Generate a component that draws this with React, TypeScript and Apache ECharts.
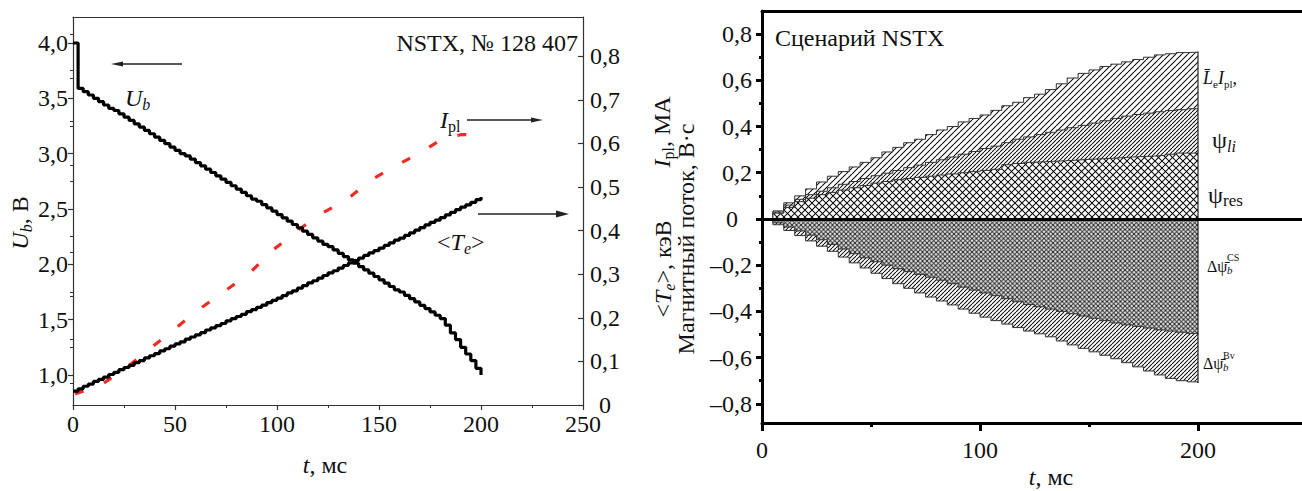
import React, { useEffect, useRef } from 'react';
import * as echarts from 'echarts';

// ---------- data (left panel) ----------
const T_FINE = [0, 2.5, 5, 7.5, 10, 12.5, 15, 17.5, 20, 22.5, 25, 27.5, 30, 32.5, 35, 37.5, 40, 42.5, 45, 47.5,
  50, 52.5, 55, 57.5, 60, 62.5, 65, 67.5, 70, 72.5, 75, 77.5, 80, 82.5, 85, 87.5, 90, 92.5, 95, 97.5,
  100, 102.5, 105, 107.5, 110, 112.5, 115, 117.5, 120, 122.5, 125, 127.5, 130, 132.5, 135, 137.5, 140, 142.5, 145, 147.5,
  150, 152.5, 155, 157.5, 160, 162.5, 165, 167.5, 170, 172.5, 175, 177.5, 180, 182.5, 185, 187.5, 190, 192.5, 195, 197.5, 200];

const UB = [4.00, 3.59, 3.56, 3.53, 3.50, 3.47, 3.44, 3.41, 3.39, 3.36,
  3.33, 3.30, 3.27, 3.24, 3.21, 3.18, 3.15, 3.12, 3.09, 3.06,
  3.03, 3.00, 2.98, 2.95, 2.92, 2.89, 2.86, 2.83, 2.80, 2.77,
  2.74, 2.71, 2.68, 2.65, 2.62, 2.59, 2.57, 2.54, 2.51, 2.48,
  2.45, 2.42, 2.39, 2.36, 2.33, 2.30, 2.27, 2.24, 2.21, 2.18,
  2.16, 2.13, 2.10, 2.07, 2.04, 2.01, 1.98, 1.95, 1.92, 1.89,
  1.86, 1.83, 1.80, 1.77, 1.75, 1.72, 1.69, 1.66, 1.63, 1.60,
  1.57, 1.54, 1.51, 1.45, 1.38, 1.32, 1.25, 1.19, 1.13, 1.06,
  1.00];

const TE = [0.032, 0.037, 0.043, 0.048, 0.054, 0.059, 0.064, 0.070, 0.075, 0.081,
  0.086, 0.091, 0.097, 0.102, 0.108, 0.113, 0.118, 0.124, 0.129, 0.135,
  0.140, 0.145, 0.151, 0.156, 0.161, 0.166, 0.172, 0.177, 0.182, 0.187,
  0.193, 0.198, 0.203, 0.208, 0.214, 0.219, 0.224, 0.229, 0.235, 0.240,
  0.245, 0.251, 0.257, 0.262, 0.268, 0.274, 0.280, 0.285, 0.291, 0.297,
  0.303, 0.308, 0.314, 0.320, 0.326, 0.331, 0.337, 0.343, 0.349, 0.354,
  0.360, 0.366, 0.372, 0.378, 0.383, 0.389, 0.395, 0.401, 0.407, 0.413,
  0.419, 0.424, 0.430, 0.436, 0.442, 0.448, 0.454, 0.459, 0.465, 0.471,
  0.477];

const IPL_T = [1, 15, 26, 38, 50, 62, 74, 86, 98, 110, 122, 134, 146, 157, 170, 181, 190, 196];
const IPL = [0.025, 0.05, 0.085, 0.13, 0.175, 0.22, 0.26, 0.30, 0.355, 0.40, 0.44, 0.47, 0.516, 0.546, 0.578, 0.61, 0.62, 0.62];

// ---------- data (right panel, boundaries of the bands) ----------
const T_FLUX = [0, 5, 10, 15, 20, 25, 30, 35, 40, 45, 50, 55, 60, 65, 70, 75, 80, 85, 90, 95,
  100, 105, 110, 115, 120, 125, 130, 135, 140, 145, 150, 155, 160, 165, 170, 175, 180, 185, 190, 195, 200];

const LE_IPL_TOP = [0, 0.035, 0.07, 0.10, 0.13, 0.16, 0.185, 0.205, 0.225, 0.245,
  0.265, 0.29, 0.31, 0.33, 0.345, 0.365, 0.385, 0.40, 0.42, 0.435,
  0.45, 0.47, 0.49, 0.505, 0.525, 0.54, 0.56, 0.585, 0.61, 0.63,
  0.645, 0.66, 0.67, 0.68, 0.69, 0.70, 0.71, 0.715, 0.72, 0.722, 0.725];

const PSI_LI_TOP = [0, 0.03, 0.06, 0.085, 0.105, 0.12, 0.135, 0.15, 0.162, 0.175,
  0.187, 0.198, 0.21, 0.222, 0.233, 0.245, 0.256, 0.268, 0.28, 0.292,
  0.305, 0.315, 0.33, 0.345, 0.355, 0.365, 0.375, 0.385, 0.395, 0.405,
  0.415, 0.425, 0.435, 0.445, 0.452, 0.458, 0.464, 0.469, 0.473, 0.477, 0.48];

const PSI_RES = [0, 0.025, 0.05, 0.075, 0.09, 0.105, 0.115, 0.125, 0.135, 0.145,
  0.155, 0.162, 0.17, 0.175, 0.18, 0.185, 0.19, 0.195, 0.20, 0.205,
  0.21, 0.215, 0.235, 0.24, 0.245, 0.248, 0.25, 0.252, 0.255, 0.258,
  0.26, 0.262, 0.265, 0.268, 0.27, 0.272, 0.275, 0.28, 0.285, 0.285, 0.285];

const DPSI_BV_BOTTOM = [0, -0.025, -0.05, -0.072, -0.095, -0.118, -0.14, -0.165, -0.19, -0.212,
  -0.235, -0.258, -0.28, -0.30, -0.32, -0.338, -0.355, -0.372, -0.39, -0.408,
  -0.425, -0.44, -0.455, -0.47, -0.485, -0.497, -0.51, -0.528, -0.545, -0.56,
  -0.575, -0.59, -0.605, -0.622, -0.64, -0.658, -0.675, -0.69, -0.70, -0.705, -0.71];

const DPSI_CS = [0, -0.017, -0.035, -0.052, -0.07, -0.09, -0.11, -0.13, -0.15, -0.168,
  -0.185, -0.20, -0.215, -0.228, -0.24, -0.252, -0.265, -0.28, -0.295, -0.308,
  -0.32, -0.332, -0.345, -0.358, -0.37, -0.38, -0.39, -0.40, -0.41, -0.42,
  -0.43, -0.44, -0.45, -0.458, -0.465, -0.472, -0.48, -0.485, -0.49, -0.495, -0.50];

// ---------- ticks ----------
const UB_TICKS = [1, 1.5, 2, 2.5, 3, 3.5, 4];
const UB_MINOR = [1.25, 1.75, 2.25, 2.75, 3.25, 3.75];
const RIGHT_TICKS = [0, 0.1, 0.2, 0.3, 0.4, 0.5, 0.6, 0.7, 0.8];
const RIGHT_MINOR = [0.05, 0.15, 0.25, 0.35, 0.45, 0.55, 0.65, 0.75, 0.85];
const FLUX_TICKS = [-0.8, -0.6, -0.4, -0.2, 0, 0.2, 0.4, 0.6, 0.8];
const FLUX_MINOR = [-0.7, -0.5, -0.3, -0.1, 0.1, 0.3, 0.5, 0.7];
const FLUX_T_TICKS = [0, 100, 200];

const F = 'Liberation Serif, Times New Roman, serif';
const INK = '#111';

const fmt = (v: number) => (Math.abs(v) < 1e-9 ? '0' : (v < 0 ? '\u2013' : '') + Math.abs(v).toFixed(1).replace('.', ','));

function makeHatch(s: number, dirs: string[], lw: number) {
  const k = 4;
  const S = Math.round(s * k);
  const c = document.createElement('canvas');
  c.width = S; c.height = S;
  const ctx = c.getContext('2d')!;
  ctx.fillStyle = '#fff';
  ctx.fillRect(0, 0, S, S);
  ctx.strokeStyle = '#000';
  ctx.lineWidth = lw * k;
  ctx.beginPath();
  for (const d of dirs) {
    for (const o of [-S, 0, S]) {
      if (d === '/') { ctx.moveTo(o, S); ctx.lineTo(o + S, 0); }
      else { ctx.moveTo(o, 0); ctx.lineTo(o + S, S); }
    }
  }
  ctx.stroke();
  return { image: c, repeat: 'repeat', imageWidth: S / k, imageHeight: S / k };
}

const tk = (size: number, italic = false) => ({ fontFamily: F, fontSize: size, fontStyle: italic ? 'italic' : 'normal', fill: INK, lineHeight: size + 4, verticalAlign: 'middle' });
const sb = (size: number, italic = false, lh = 14) => ({ fontFamily: F, fontSize: size, fontStyle: italic ? 'italic' : 'normal', fill: INK, lineHeight: lh, verticalAlign: 'bottom' });

function txt(x: number, y: number, text: string, rich: any, align = 'left', rot = 0, size = 24) {
  return { type: 'text', x, y, z: 100, rotation: rot, style: { text, rich, align, verticalAlign: 'middle', fontFamily: F, fontSize: size, fill: INK } };
}

function arrow(x1: number, x2: number, y: number, head: number, half: number) {
  const dir = x2 > x1 ? 1 : -1;
  return [
    { type: 'line', z: 100, shape: { x1, y1: y, x2: x2 - dir * head * 0.6, y2: y }, style: { stroke: '#222', lineWidth: 1.3 } },
    { type: 'polygon', z: 100, shape: { points: [[x2, y], [x2 - dir * head, y - half], [x2 - dir * head, y + half]] }, style: { fill: '#222' } },
  ];
}

export default function App() {
  const ref = useRef<HTMLDivElement>(null);
  useEffect(() => {
    if (!ref.current) return;
    const chart = echarts.init(ref.current, null, { renderer: 'svg' });

    const pLe = makeHatch(6, ['/'], 1.0);
    const pLi = makeHatch(4, ['/'], 0.95);
    const pRes = makeHatch(7, ['/', '\\'], 1.0);
    const pCS = makeHatch(4.5, ['/', '\\'], 0.9);
    const pBv = makeHatch(4, ['/'], 0.95);

    const thin = { color: '#333', width: 1.2 };
    const thick = { color: '#000', width: 3 };
    const lbl = { fontFamily: F, fontSize: 24, color: INK };

    const flux = (name: string, vals: number[], pattern: any, z: number, extra: any = {}) => ({
      type: 'line', name, xAxisIndex: 2, yAxisIndex: 4, z, silent: true, symbol: 'none', step: 'end',
      data: T_FLUX.map((t, i) => [t, vals[i]]),
      lineStyle: { color: '#333', width: 1 },
      areaStyle: { color: pattern, opacity: 1 },
      ...extra,
    });

    const last = T_FLUX.length - 1;

    const option: any = {
      animation: false,
      backgroundColor: '#fff',
      textStyle: { fontFamily: F },
      grid: [
        { left: 73, top: 17, width: 510, height: 388, outerBoundsMode: 'none', containLabel: false },
        { left: 762, top: 11, width: 654, height: 412, outerBoundsMode: 'none', containLabel: false },
      ],
      xAxis: [
        {
          gridIndex: 0, type: 'value', position: 'bottom', min: 0, max: 250, interval: 50,
          axisLine: { onZero: false, lineStyle: thin },
          axisTick: { length: 5, lineStyle: thin },
          minorTick: { show: true, splitNumber: 2, length: 3, lineStyle: { color: '#333', width: 1 } },
          splitLine: { show: false }, minorSplitLine: { show: false },
          axisLabel: { ...lbl, margin: 7 },
        },
        {
          gridIndex: 0, type: 'value', position: 'top', min: 0, max: 250,
          axisLine: { show: true, onZero: false, lineStyle: thin },
          axisTick: { show: false }, axisLabel: { show: false }, splitLine: { show: false },
        },
        {
          gridIndex: 1, type: 'value', position: 'bottom', min: 0, max: 300, interval: 100,
          axisLine: { onZero: false, lineStyle: thick },
          axisTick: { length: 8, lineStyle: thick },
          minorTick: { show: true, splitNumber: 2, length: 4, lineStyle: thick },
          splitLine: { show: false }, minorSplitLine: { show: false },
          axisLabel: { ...lbl, margin: 15, customValues: FLUX_T_TICKS },
        },
        {
          gridIndex: 1, type: 'value', position: 'top', min: 0, max: 300,
          axisLine: { show: true, onZero: false, lineStyle: thick },
          axisTick: { show: false }, axisLabel: { show: false }, splitLine: { show: false },
        },
      ],
      yAxis: [
        {
          gridIndex: 0, type: 'value', position: 'left', min: 0.729, max: 4.235,
          axisLine: { show: true, onZero: false, lineStyle: thin },
          axisTick: { show: true, length: 5, lineStyle: thin, customValues: UB_TICKS },
          axisLabel: { ...lbl, margin: 5, customValues: UB_TICKS, formatter: fmt },
          splitLine: { show: false },
        },
        {
          gridIndex: 0, type: 'value', position: 'left', min: 0.729, max: 4.235,
          axisLine: { show: false },
          axisTick: { show: true, length: 3, lineStyle: { color: '#333', width: 1 }, customValues: UB_MINOR },
          axisLabel: { show: false }, splitLine: { show: false },
        },
        {
          gridIndex: 0, type: 'value', position: 'right', min: 0, max: 0.89,
          axisLine: { show: true, onZero: false, lineStyle: thin },
          axisTick: { show: true, inside: true, length: 5, lineStyle: thin, customValues: RIGHT_TICKS },
          axisLabel: { ...lbl, margin: 22, align: 'center', customValues: RIGHT_TICKS, formatter: fmt },
          splitLine: { show: false },
        },
        {
          gridIndex: 0, type: 'value', position: 'right', min: 0, max: 0.89,
          axisLine: { show: false },
          axisTick: { show: true, inside: true, length: 3, lineStyle: { color: '#333', width: 1 }, customValues: RIGHT_MINOR },
          axisLabel: { show: false }, splitLine: { show: false },
        },
        {
          gridIndex: 1, type: 'value', position: 'left', min: -0.883, max: 0.9,
          axisLine: { show: true, onZero: false, lineStyle: thick },
          axisTick: { show: true, length: 6, lineStyle: thick, customValues: FLUX_TICKS },
          axisLabel: {
            ...lbl, margin: 10, customValues: FLUX_TICKS,
            formatter: (v: number) => (Math.abs(v) < 1e-9 ? '{z|0}' : fmt(v)),
            rich: { z: { fontFamily: F, fontSize: 24, color: INK, padding: [0, 14, 0, 0] } },
          },
          splitLine: { show: false },
        },
        {
          gridIndex: 1, type: 'value', position: 'left', min: -0.883, max: 0.9,
          axisLine: { show: false },
          axisTick: { show: true, length: 3, lineStyle: thick, customValues: FLUX_MINOR },
          axisLabel: { show: false }, splitLine: { show: false },
        },
      ],
      series: [
        {
          type: 'line', name: 'Ipl', xAxisIndex: 0, yAxisIndex: 2, z: 2, symbol: 'none', silent: true,
          data: IPL_T.map((t, i) => [t, IPL[i]]),
          lineStyle: { color: '#ee2b25', width: 3.2, type: [9, 22] },
        },
        {
          type: 'line', name: 'Ub', xAxisIndex: 0, yAxisIndex: 0, z: 3, symbol: 'none', silent: true, step: 'end',
          data: T_FINE.map((t, i) => [t, UB[i]]),
          lineStyle: { color: '#000', width: 3.2 },
        },
        {
          type: 'line', name: 'Te', xAxisIndex: 0, yAxisIndex: 2, z: 3, symbol: 'none', silent: true, step: 'end',
          data: T_FINE.map((t, i) => [t, TE[i]]),
          lineStyle: { color: '#000', width: 3.2 },
        },
        flux('LeIpl', LE_IPL_TOP, pLe, 2),
        flux('psiLi', PSI_LI_TOP, pLi, 3),
        flux('psiRes', PSI_RES, pRes, 4, {
          markLine: {
            silent: true, symbol: ['none', 'none'], z: 10, animation: false,
            label: { show: false },
            lineStyle: { color: '#000', width: 3, type: 'solid' },
            data: [{ yAxis: 0 }],
          },
        }),
        flux('dPsiBv', DPSI_BV_BOTTOM, pBv, 2),
        flux('dPsiCS', DPSI_CS, pCS, 3),
        {
          type: 'line', name: 'edge', xAxisIndex: 2, yAxisIndex: 4, z: 6, symbol: 'none', silent: true,
          data: [[T_FLUX[last], LE_IPL_TOP[last]], [T_FLUX[last], DPSI_BV_BOTTOM[last]]],
          lineStyle: { color: '#222', width: 1.2 },
        },
      ],
      graphic: [
        // left panel annotations
        txt(578, 43, 'NSTX, \u2116 128 407', undefined, 'right'),
        ...arrow(182, 111, 64, 12, 2.6),
        txt(125, 98, '{i|U}{s|b}', { i: tk(24, true), s: sb(16, true) }),
        txt(440, 120, '{i|I}{s|pl}', { i: tk(24, true), s: sb(16, false) }),
        ...arrow(467, 543, 120, 12, 2.6),
        ...arrow(478, 569, 214, 13, 3.6),
        txt(437, 242, '{n|<}{i|T}{s|e}{n|>}', { n: tk(24), i: tk(24, true), s: sb(16, true) }),
        // axis titles
        txt(20, 223, '{i|U}{s|b}{n|, В}', { i: tk(24, true), s: sb(16, true), n: tk(24) }, 'center', Math.PI / 2),
        txt(325, 465, '{i|t}{n|, мс}', { i: tk(24, true), n: tk(24) }, 'center'),
        txt(662, 132, '{i|I}{s|pl}{n|, МА}', { i: tk(24, true), s: sb(16, false), n: tk(24) }, 'center', Math.PI / 2),
        txt(663, 269, '{n|<}{i|T}{s|e}{n|>, кэВ}', { n: tk(24), i: tk(24, true), s: sb(16, true) }, 'center', Math.PI / 2),
        txt(686, 239, 'Магнитный поток, В·с', undefined, 'center', Math.PI / 2),
        txt(1051, 477, '{i|t}{n|, мс}', { i: tk(24, true), n: tk(24) }, 'center'),
        // right panel annotations
        txt(775, 38, 'Сценарий NSTX', undefined, 'left'),
        txt(1203, 78, '{i|L\u0304}{s|e}{i|I}{s|pl}{n|,}', { i: tk(18, true), s: sb(11, false, 10), n: tk(18) }),
        txt(1212, 140, '{p|\u03c8}{s|li}', { p: tk(24), s: sb(16, true, 12) }),
        txt(1208, 195, '{p|\u03c8}{s|res}', { p: tk(24), s: sb(17, false, 16) }),
        txt(1207, 266, '\u0394\u03c8\u0304', undefined, 'left', 0, 16),
        txt(1227, 257, 'CS', undefined, 'left', 0, 10),
        txt(1227, 270, '{i|b}', { i: tk(11, true) }),
        txt(1203, 363, '\u0394\u03c8\u0304', undefined, 'left', 0, 16),
        txt(1223, 355, 'Bv', undefined, 'left', 0, 10),
        txt(1223, 367, '{i|b}', { i: tk(11, true) }),
      ],
    };

    chart.setOption(option);
    return () => chart.dispose();
  }, []);

  return (
    <div
      ref={ref}
      style={{ position: 'fixed', left: 0, top: 0, width: 1302, height: 491, background: '#fff' }}
    />
  );
}
